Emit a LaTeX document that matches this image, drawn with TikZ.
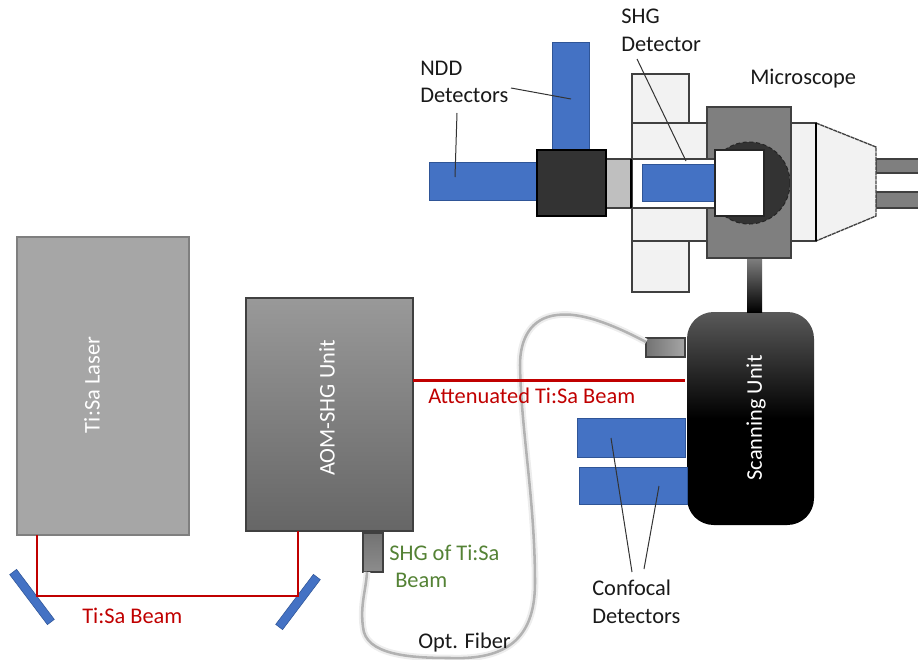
\documentclass[tikz,border=0pt]{standalone}
\usepackage{fontspec}
\setmainfont{Carlito}
\definecolor{bluebox}{HTML}{4472C4}
\definecolor{blueedge}{HTML}{2F5597}
\definecolor{beamred}{HTML}{C00000}
\definecolor{shggreen}{HTML}{548235}
\definecolor{lightpart}{HTML}{F2F2F2}
\definecolor{midgray}{HTML}{7F7F7F}
\definecolor{darkpart}{HTML}{333333}
\definecolor{edgegray}{HTML}{404040}
\newcommand{\bx}[6]{\node[inner sep=0pt,outer sep=0pt,minimum width={(#4-#2)*0.75pt},minimum height={(#5-#3)*0.75pt},#6] (#1) at ({(#2+#4)/2},{(#3+#5)/2}) {};}
\tikzset{
  lbl/.style={anchor=base west,inner sep=0pt,font=\fontsize{16.8}{20}\selectfont,text=black!90},
  lblred/.style={lbl,text=beamred},
  lblgreen/.style={lbl,text=shggreen},
  inlbl/.style={rotate=90,inner sep=0pt,text=white,font=\fontsize{16.8}{20}\selectfont},
  detector/.style={draw=blueedge,line width=0.6pt,fill=bluebox},
  lightbox/.style={draw=edgegray,line width=1pt,fill=lightpart},
  beam/.style={draw=beamred,line width=2.1pt},
  leader/.style={draw=black!80,line width=0.75pt},
  mirror/.style={draw=blueedge,line width=0.4pt,fill=bluebox,rotate=#1,minimum width=47pt,minimum height=6.5pt,inner sep=0pt,outer sep=0pt},
  fiberline/.style={draw=black!30,line width=1.9pt,line join=round},
  fiberglow/.style={draw=black!7,line width=5pt,line join=round}
}
\begin{document}
\begin{tikzpicture}[x=0.75pt,y=-0.75pt]
\useasboundingbox (0,0) rectangle (918,660);
% main units
\bx{tisa}{17}{237}{189}{535}{fill=black!35,draw=midgray,line width=1.2pt}
\bx{aom}{246}{298}{413}{531}{draw=edgegray,line width=0.9pt,top color=black!40,bottom color=black!60}
\node[inlbl] (tisaL) at (92,385) {Ti:Sa Laser};
\node[inlbl] (aomL) at (327,408) {AOM-SHG Unit};
% fibre couplers
\bx{shgbox}{363}{533}{383}{572}{draw=edgegray,line width=0.9pt,top color=black!55,bottom color=black!45}
\bx{port}{646}{338}{685}{357}{draw=edgegray,line width=0.9pt,left color=black!55,right color=black!35}
% fibre
\coordinate (f0) at (646,342);
\coordinate (f1) at (557,315);
\coordinate (f2) at (520,365);
\coordinate (f3) at (535,583);
\coordinate (f4) at (450,658);
\coordinate (f5) at (363,627);
\coordinate (f6) at (367,572);
\foreach \st in {fiberglow,fiberline}{
\draw[\st] (f0) .. controls (625,331) and (585,311) .. (f1)
  .. controls (530,318) and (520,340) .. (f2)
  .. controls (521,430) and (535,500) .. (f3)
  .. controls (535,640) and (505,660) .. (f4)
  .. controls (410,658) and (365,655) .. (f5)
  .. controls (360,605) and (366,590) .. (f6);}
% beams
\coordinate (m1) at (37,596);
\coordinate (m2) at (298,596);
\coordinate (att) at (413,380.5);
\node[mirror=-53] (mirL) at (32,597) {};
\node[mirror=53] (mirR) at (298,602) {};
\draw[beam] (tisa.south -| m1) -- (m1) -- (m2) -- (aom.south -| m2);
\node[inner sep=0pt,outer sep=0pt,minimum size=0pt] (scanEdge) at (685,380.5) {};
\draw[beam] (att) -- (scanEdge);
% scanning unit
\bx{scan}{687}{312}{814}{525}{rounded corners=20pt,top color=black!65,bottom color=black,middle color=black}
\node[inlbl] (scanL) at (756,418) {Scanning Unit};
\bx{stem}{747}{258}{762}{312}{top color=black!50,bottom color=black}
% confocal
\bx{conf1}{577}{418}{685}{457}{detector}
\bx{conf2}{579}{467}{687}{504}{detector}
% microscope
\bx{cTop}{632}{74}{689}{123}{lightbox}
\bx{cBot}{632}{241}{689}{292}{lightbox}
\bx{cMid}{632}{123}{707}{241}{lightbox}
\bx{grayBar}{606}{159}{631}{208}{draw=edgegray,line width=1pt,fill=black!25}
\bx{body}{707}{107}{791}{258}{draw=edgegray,line width=1pt,fill=midgray}
\node[circle,draw=black!85,densely dashed,line width=0.8pt,fill=darkpart,minimum size=82*0.75pt,inner sep=0pt] (turret) at (749,183) {};
\bx{tube}{632}{159}{716}{208}{draw=edgegray,line width=1pt,fill=white}
\draw[black,line width=2pt] (grayBar.north east) -- (grayBar.south east);
\bx{shgdet}{642}{164}{715}{201}{detector}
\bx{rightpart}{791}{123}{816}{241}{draw=edgegray,line width=1pt,fill=lightpart}
\bx{stage}{715}{150}{764}{216}{draw=black!85,line width=1pt,fill=white}
\bx{tubeA}{876}{159}{925}{173}{draw=edgegray,line width=0.8pt,fill=midgray}
\bx{tubeB}{876}{192}{925}{208}{draw=edgegray,line width=0.8pt,fill=midgray}
\draw[draw=edgegray,dashed,dash pattern=on 3pt off 0.5pt,line width=1pt,fill=lightpart] (816,123) -- (876,147) -- (876,216) -- (816,241) -- cycle;
\draw[black,line width=2pt] (rightpart.north east) -- (rightpart.south east);
% NDD
\bx{nddV}{552}{42}{589}{149}{detector}
\bx{nddH}{429}{162}{537}{200}{detector}
\bx{cube}{537}{150}{606}{216}{draw=black,line width=1pt,fill=darkpart}
% labels
\node[lbl] (ndd1) at (420,76) {NDD};
\node[lbl] (ndd2) at (420,103) {Detectors};
\node[lbl] (shg1) at (621,24) {SHG};
\node[lbl] (shg2) at (621,52) {Detector};
\node[lbl] (micro) at (750,85) {Microscope};
\node[lblred] (attL) at (428,403) {Attenuated Ti:Sa Beam};
\node[lblred] (beamL) at (82,623) {Ti:Sa Beam};
\node[lblgreen] (shgL1) at (389,560) {SHG of Ti:Sa};
\node[lblgreen] (shgL2) at (395,587) {Beam};
\node[lbl] (fib) at (418,648) {Opt. Fiber};
\node[lbl] (con1) at (592,595) {Confocal};
\node[lbl] (con2) at (592,623) {Detectors};
% leaders
\coordinate (l1a) at (511,88);   \coordinate (l1b) at (571,99);
\coordinate (l2a) at (457,113);  \coordinate (l2b) at (455,177);
\coordinate (l3a) at (637,59);   \coordinate (l3b) at (686,161);
\coordinate (l4a) at (632,572);  \coordinate (l4b) at (611,438);
\coordinate (l5a) at (644,569);  \coordinate (l5b) at (659,486);
\draw[leader] (l1a) -- (l1b);
\draw[leader] (l2a) -- (l2b);
\draw[leader] (l3a) -- (l3b);
\draw[leader] (l4a) -- (l4b);
\draw[leader] (l5a) -- (l5b);
\end{tikzpicture}
\end{document}
